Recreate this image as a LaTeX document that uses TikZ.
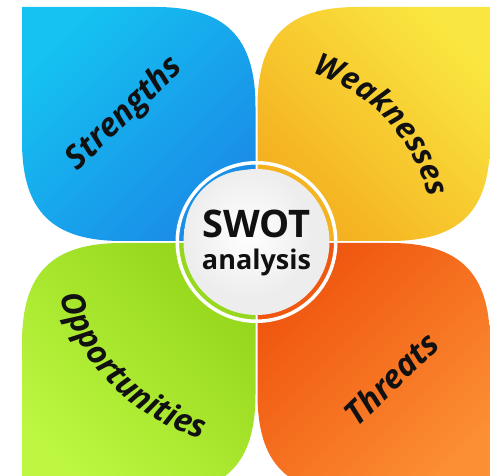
\documentclass[tikz,border=0pt]{standalone}
\usepackage{fontspec}
\setmainfont{Open Sans}
\usetikzlibrary{decorations.text}
\definecolor{blueA}{HTML}{15C2F1}
\definecolor{blueB}{HTML}{1A8BE7}
\definecolor{yelA}{HTML}{FAE640}
\definecolor{yelB}{HTML}{F4AE1E}
\definecolor{grnA}{HTML}{94D61B}
\definecolor{grnB}{HTML}{BDF741}
\definecolor{orgA}{HTML}{EF540E}
\definecolor{orgB}{HTML}{FC8E33}
\definecolor{ink}{HTML}{111111}
\newcommand{\lblfont}{\fontsize{31}{31}\selectfont\bfseries\itshape\color{ink}}
\newcommand{\oppfont}{\fontsize{32}{32}\selectfont\bfseries\itshape\color{ink}}
\begin{document}
\begin{tikzpicture}[x=1pt,y=1pt,
  quad/.style={shading=axis},
  lbl/.style={font=\fontsize{32.5}{32.5}\selectfont\bfseries\itshape, text=ink, inner sep=0pt},
  ctr/.style={text=ink, inner sep=0pt, anchor=base}]
\useasboundingbox (0,0) rectangle (490,476);
\clip (0,0) rectangle (490,476);
\fill[white] (0,0) rectangle (490,476);
% quadrants
\shade[quad, top color=blueA, bottom color=blueB, shading angle=45]
  (22,469) -- (155.5,469) .. controls (225.5,469) and (255.5,439) .. (255.5,369)
  -- (255.5,235) -- (122,235) .. controls (52,235) and (22,265) .. (22,335) -- cycle;
\shade[quad, top color=yelA, bottom color=yelB, shading angle=-45]
  (490,469) -- (357.5,469) .. controls (287.5,469) and (257.5,439) .. (257.5,369)
  -- (257.5,235) -- (390,235) .. controls (460,235) and (490,265) .. (490,335) -- cycle;
\shade[quad, top color=grnA, bottom color=grnB, shading angle=-45]
  (22,-18) -- (22,133) .. controls (22,203) and (52,233) .. (122,233)
  -- (255.5,233) -- (255.5,82) .. controls (255.5,12) and (225.5,-18) .. (155.5,-18) -- cycle;
\shade[quad, top color=orgA, bottom color=orgB, shading angle=45]
  (257.5,233) -- (390,233) .. controls (460,233) and (490,203) .. (490,133)
  -- (490,-18) -- (357.5,-18) .. controls (287.5,-18) and (257.5,12) .. (257.5,82) -- cycle;
% centre circle
\coordinate (C) at (256.5,234);
\fill[white, even odd rule] (C) circle (81) circle (77.5);
\fill[black!7] (C) circle (73);
\shade[inner color=white, outer color=black!7] ([shift={(-8,8)}]C) circle (64);
\node[ctr, font=\fontsize{38}{38}\selectfont\bfseries] (swot) at (256.5,238) {SWOT};
\node[ctr, font=\fontsize{27}{27}\selectfont\bfseries] (ana) at (256.5,206) {analysis};
% labels
\node[lbl, rotate=44] (str) at (125,362) {Strengths};
\node[lbl, rotate=44] (thr) at (391,98) {Threats};
\path[decorate, decoration={text along path, text align=center,
  text={|\lblfont|Weaknesses}}]
  ([shift={(88:178)}]C) arc[start angle=88, end angle=-2, radius=178];
\path[decorate, decoration={text along path, text align=center,
  text={|\oppfont|Opportunities}}]
  ([shift={(180:204)}]C) arc[start angle=180, end angle=270, radius=204];
\end{tikzpicture}
\end{document}
